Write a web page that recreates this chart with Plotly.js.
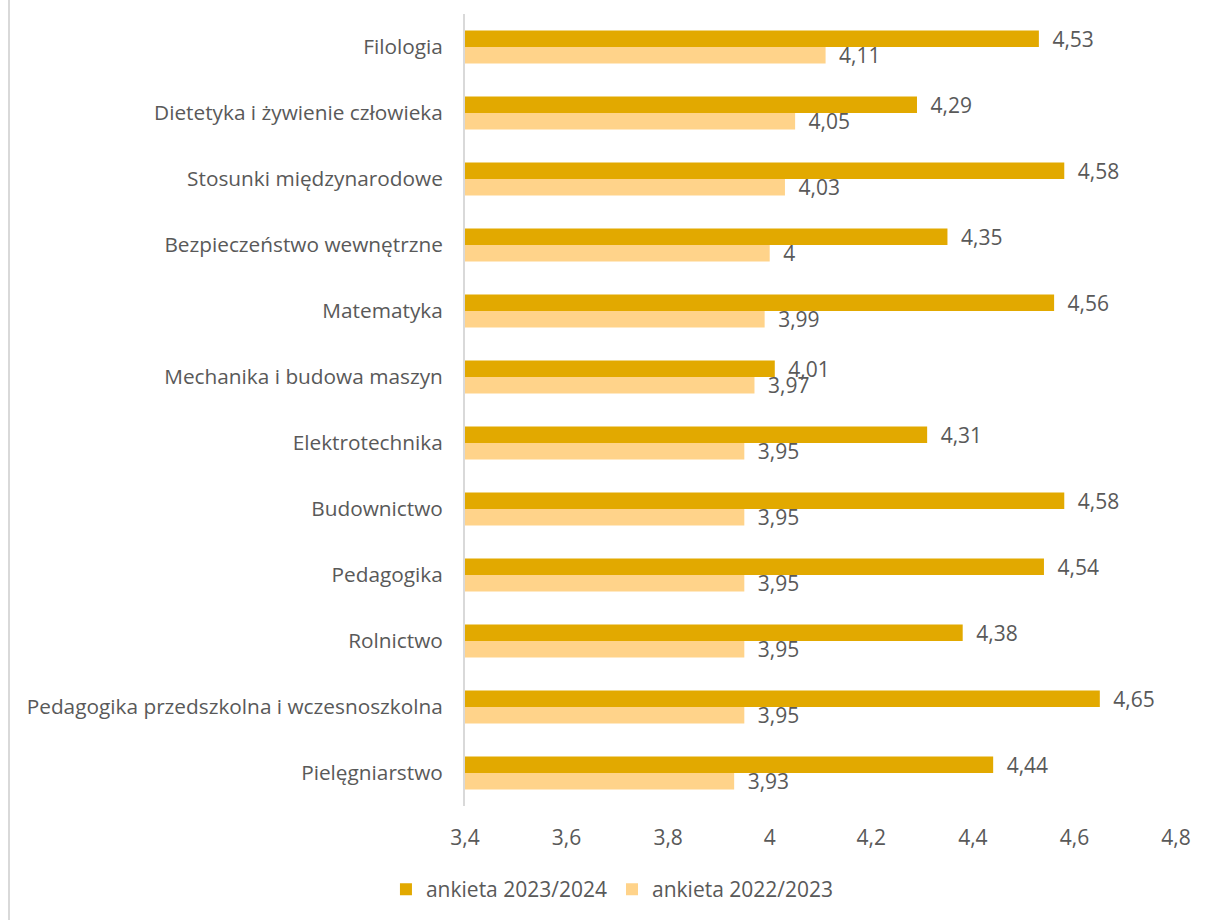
<!DOCTYPE html>
<html>
<head>
<meta charset="utf-8">
<script src="https://cdn.plot.ly/plotly-3.0.1.min.js"></script>
<style>
  html, body { margin: 0; padding: 0; background: #fff; }
  #chart { position: absolute; left: 0; top: 0; width: 1208px; height: 920px; }
  #edge { position: absolute; left: 8px; top: 0; width: 2px; height: 920px; background: #d9d9d9; }
</style>
</head>
<body>
<div id="chart"></div>
<div id="edge"></div>
<script>
var categories = ["Filologia", "Dietetyka i żywienie człowieka", "Stosunki międzynarodowe",
  "Bezpieczeństwo wewnętrzne", "Matematyka", "Mechanika i budowa maszyn", "Elektrotechnika",
  "Budownictwo", "Pedagogika", "Rolnictwo", "Pedagogika przedszkolna i wczesnoszkolna", "Pielęgniarstwo"];
var survey2324 = [4.53, 4.29, 4.58, 4.35, 4.56, 4.01, 4.31, 4.58, 4.54, 4.38, 4.65, 4.44];
var survey2223 = [4.11, 4.05, 4.03, 4.00, 3.99, 3.97, 3.95, 3.95, 3.95, 3.95, 3.95, 3.93];
var tickVals = [3.4, 3.6, 3.8, 4.0, 4.2, 4.4, 4.6, 4.8];

var TXT = "#595959";
var FONT = "Open Sans, sans-serif";
function lbl(v) { return String(v).replace(".", ","); }
// small lead so the value sits a bit off the bar end, as in the original
function barLbl(v) { return "\u2002" + lbl(v); }

var traces = [
  { type: "bar", orientation: "h", name: "ankieta 2023/2024", y: categories, x: survey2324,
    marker: { color: "#E2A900" }, text: survey2324.map(barLbl), textposition: "outside",
    constraintext: "none", textfont: { family: FONT, size: 21, color: TXT }, cliponaxis: false },
  { type: "bar", orientation: "h", name: "ankieta 2022/2023", y: categories, x: survey2223,
    marker: { color: "#FFD38A" }, text: survey2223.map(barLbl), textposition: "outside",
    constraintext: "none", textfont: { family: FONT, size: 21, color: TXT }, cliponaxis: false }
];

Plotly.newPlot("chart", traces, {
  width: 1208, height: 920,
  margin: { t: 14, r: 32, b: 114, l: 465 },
  barmode: "group", bargap: 0.5, bargroupgap: 0,
  paper_bgcolor: "#fff", plot_bgcolor: "#fff",
  font: { family: FONT, size: 21, color: TXT },
  xaxis: { range: [3.4, 4.8], tickvals: tickVals, ticktext: tickVals.map(function (v) { return lbl(+v.toFixed(1)); }),
    showgrid: false, zeroline: false, showline: false, ticks: "", ticklabelstandoff: 17,
    tickfont: { family: FONT, size: 21, color: TXT } },
  yaxis: { autorange: "reversed", showline: true, linecolor: "#d9d9d9", linewidth: 2,
    showgrid: false, ticks: "", ticklabelstandoff: 16,
    tickfont: { family: FONT, size: 20.8, color: TXT } },
  showlegend: true,
  legend: { orientation: "h", xref: "container", yref: "container", x: 0.507, xanchor: "center",
    y: 0.033, yanchor: "middle", font: { family: FONT, size: 21, color: TXT },
    itemwidth: 30, tracegroupgap: 0 }
}, { displayModeBar: false, staticPlot: true });
</script>
</body>
</html>
